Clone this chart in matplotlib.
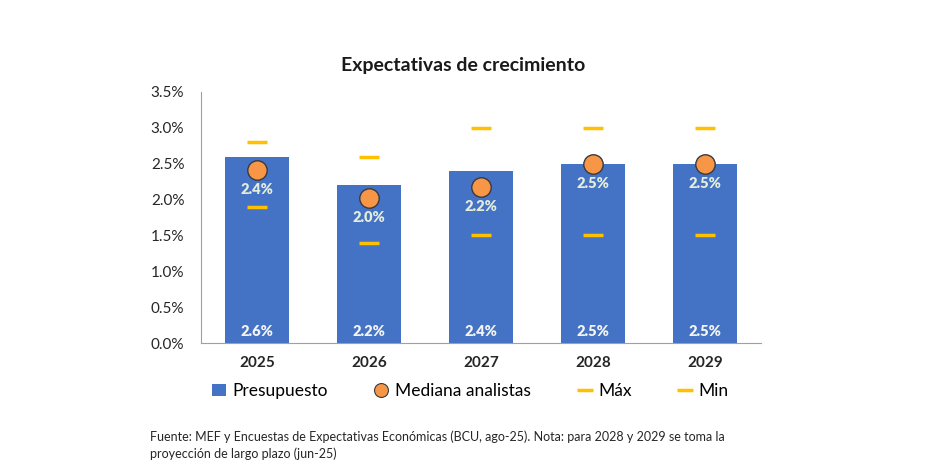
import matplotlib.pyplot as plt
from matplotlib.lines import Line2D
from matplotlib.ticker import FuncFormatter

plt.rcParams['font.family'] = ['Lato', 'DejaVu Sans']

years = ['2025', '2026', '2027', '2028', '2029']
presupuesto = [2.6, 2.2, 2.4, 2.5, 2.5]
mediana = [2.41, 2.02, 2.18, 2.5, 2.5]
mediana_lbl = ['2.4%', '2.0%', '2.2%', '2.5%', '2.5%']
maximo = [2.8, 2.6, 3.0, 3.0, 3.0]
minimo = [1.9, 1.4, 1.5, 1.5, 1.5]

blue = '#4472C4'
orange = '#F79646'
gold = '#FFC000'

fig = plt.figure(figsize=(9.33, 4.7), dpi=100)
ax = fig.add_axes([0.2154, 0.2702, 0.6003, 0.5341])

x = list(range(len(years)))
h_bar = ax.bar(x, presupuesto, width=0.57, color=blue, label='Presupuesto', zorder=2)
ax.plot(x, mediana, 'o', ms=14, mfc=orange, mec='#3a3a3a', mew=1,
        linestyle='none', zorder=4)
ax.plot(x, maximo, '_', ms=15, mew=2.5, color=gold, linestyle='none', zorder=3)
ax.plot(x, minimo, '_', ms=15, mew=2.5, color=gold, linestyle='none', zorder=3)

# labels
for i in x:
    ax.text(i, mediana[i] - 0.18, mediana_lbl[i], ha='center', va='top',
            color='#E4EDDC', fontsize=10.5, fontweight='heavy', zorder=5)
    ax.text(i, 0.07, '%.1f%%' % presupuesto[i], ha='center', va='bottom',
            color='#F4F4F4', fontsize=10.5, fontweight='heavy', zorder=5)

ax.set_xlim(-0.5, len(years) - 0.5)
ax.set_ylim(0, 3.5)
ax.set_yticks([0, 0.5, 1.0, 1.5, 2.0, 2.5, 3.0, 3.5])
ax.yaxis.set_major_formatter(FuncFormatter(lambda v, p: '%.1f%%' % v))
ax.set_xticks(x)
ax.set_xticklabels(years, fontweight='bold')
ax.tick_params(axis='both', length=0, labelsize=11, colors='#262626')
ax.tick_params(axis='y', pad=12)
ax.tick_params(axis='x', pad=9)

for s in ['top', 'right']:
    ax.spines[s].set_visible(False)
ax.spines['left'].set_color('#A0A0A0')
ax.spines['bottom'].set_color('#A0A0A0')

fig.text(463 / 933, 1 - 66 / 470, 'Expectativas de crecimiento', fontsize=14,
         fontweight='bold', ha='center', va='center', color='#1a1a1a')

# legend entries placed one by one, like the original
p_med = Line2D([], [], marker='o', ms=10, mfc=orange, mec='#3a3a3a', mew=0.8,
               linestyle='none')
p_dash = Line2D([], [], marker='_', ms=12, mew=2.5, color=gold, linestyle='none')
leg_items = [(h_bar, 'Presupuesto', 212), (p_med, 'Mediana analistas', 374),
             (p_dash, 'Máx', 578), (p_dash, 'Min', 678)]
for h, lab, px in leg_items:
    fig.legend([h], [lab], loc='center left',
               bbox_to_anchor=(px / 933, 1 - 391 / 470), frameon=False,
               fontsize=12.5, handlelength=0.8, handletextpad=0.4,
               borderpad=0, borderaxespad=0)

fig.text(150 / 933, 1 - 445 / 470,
         'Fuente: MEF y Encuestas de Expectativas Económicas (BCU, ago-25). '
         'Nota: para 2028 y 2029 se toma la\nproyección de largo plazo (jun-25)',
         fontsize=9, color='#262626', va='center', linespacing=1.45)

fig.savefig('out.png', dpi=100)
